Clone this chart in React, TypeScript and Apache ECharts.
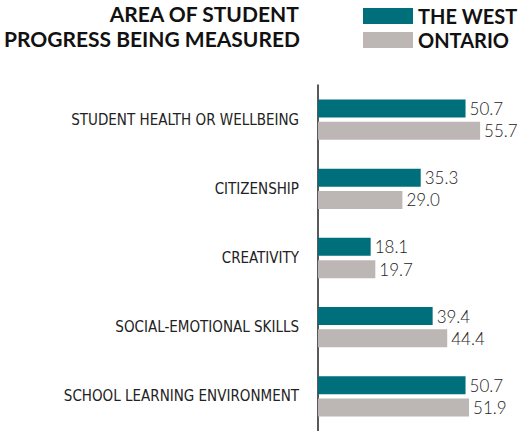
import React, { useEffect, useRef } from "react";
import * as echarts from "echarts";

const categories = [
  "STUDENT HEALTH OR WELLBEING",
  "CITIZENSHIP",
  "CREATIVITY",
  "SOCIAL-EMOTIONAL SKILLS",
  "SCHOOL LEARNING ENVIRONMENT",
];
const theWest = [50.7, 35.3, 18.1, 39.4, 50.7];
const ontario = [55.7, 29.0, 19.7, 44.4, 51.9];
const seriesNames = ["THE WEST", "ONTARIO"];
const titleLines = ["AREA OF STUDENT", "PROGRESS BEING MEASURED"];

export default function App() {
  const ref = useRef<HTMLDivElement>(null);
  useEffect(() => {
    if (!ref.current) return;
    const chart = echarts.init(ref.current, undefined, { renderer: "svg" });
    const labelStyle = {
      show: true,
      position: "right" as const,
      distance: 4,
      color: "#222",
      fontFamily: "Lato",
      fontWeight: 300,
      fontSize: 17,
      formatter: (p: any) => Number(p.value).toFixed(1),
    };
    chart.setOption({
      animation: false,
      backgroundColor: "#fff",
      graphic: titleLines.map((t, i) => ({
        type: "text",
        right: 219,
        top: 3 + i * 25,
        style: {
          text: t,
          fontFamily: "Lato",
          fontWeight: "bold",
          fontSize: 21,
          fill: "#111",
        },
      })),
      legend: {
        orient: "vertical",
        left: 363,
        top: 6,
        padding: 0,
        itemWidth: 50,
        itemHeight: 16,
        itemGap: 4,
        icon: "rect",
        textStyle: {
          fontFamily: "Lato",
          fontWeight: "bold",
          fontSize: 20,
          color: "#111",
        },
        data: seriesNames,
      },
      grid: { left: 318, top: 85, height: 350, width: 174.6, containLabel: false },
      xAxis: {
        type: "value",
        min: 0,
        max: 60,
        show: false,
      },
      yAxis: {
        type: "category",
        inverse: true,
        data: categories,
        axisTick: { show: false },
        axisLine: { show: true, lineStyle: { color: "#222", width: 1.5 } },
        axisLabel: {
          margin: 19,
          fontFamily: "'DejaVu Sans Condensed', 'Liberation Sans Narrow', 'Roboto', sans-serif",
          fontSize: 15,
          color: "#222",
        },
      },
      series: [
        {
          name: seriesNames[0],
          type: "bar",
          data: theWest,
          barWidth: 18,
          barGap: "24%",
          itemStyle: { color: "#006f7c" },
          label: labelStyle,
        },
        {
          name: seriesNames[1],
          type: "bar",
          data: ontario,
          barWidth: 18,
          barGap: "24%",
          itemStyle: { color: "#bcb7b4" },
          label: labelStyle,
        },
      ],
    });
    return () => chart.dispose();
  }, []);
  return <div ref={ref} style={{ width: 519, height: 431, position: "absolute", left: 0, top: 0 }} />;
}
